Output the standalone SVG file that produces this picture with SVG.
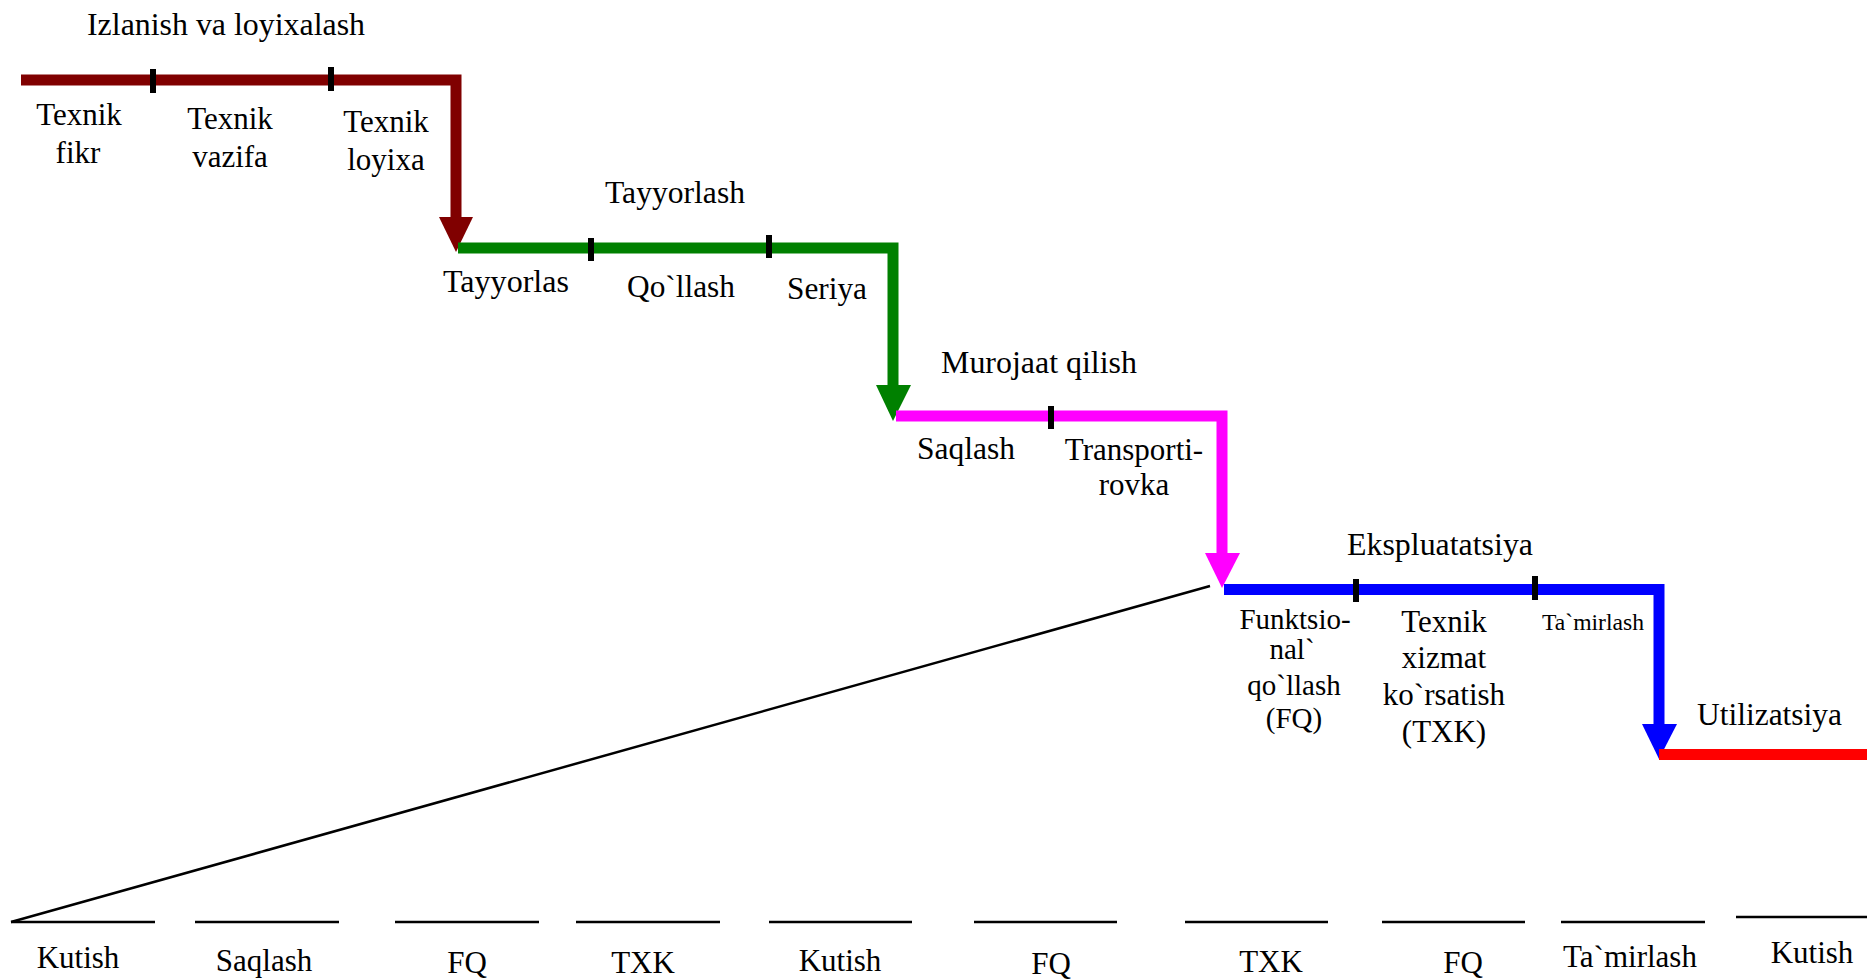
<svg xmlns="http://www.w3.org/2000/svg" width="1867" height="980" viewBox="0 0 1867 980">
  <style>
    text { font-family: "Liberation Serif", "Times New Roman", serif; font-size: 31px; fill: #000; }
    .mid { text-anchor: middle; }
    .small { font-size: 23px; }
    .stage { fill: none; stroke-width: 11; stroke-linejoin: miter; stroke-linecap: butt; }
    .tick { stroke: #000; stroke-width: 6; }
    .thin { stroke: #000; stroke-width: 2.5; fill: none; }
  </style>
  <rect width="1867" height="980" fill="#fff"/>

  <g id="connectors">
    <!-- Izlanish va loyixalash -->
    <polyline class="stage" stroke="#800000" points="21,80 456,80 456,218"/>
    <polygon fill="#800000" points="439,217 473,217 456,252"/>
    <!-- Tayyorlash -->
    <polyline class="stage" stroke="#008000" points="458,248 893,248 893,386"/>
    <polygon fill="#008000" points="876,385 911,385 893,421"/>
    <!-- Murojaat qilish -->
    <polyline class="stage" stroke="#FF00FF" points="896,416 1222,416 1222,554"/>
    <polygon fill="#FF00FF" points="1205,553 1240,553 1222,588"/>
    <!-- Ekspluatatsiya -->
    <polyline class="stage" stroke="#0000FF" points="1224,589.5 1659,589.5 1659,725"/>
    <polygon fill="#0000FF" points="1642,724 1677,724 1659,759"/>
    <!-- Utilizatsiya -->
    <line class="stage" stroke="#FF0000" x1="1659" y1="754.5" x2="1867" y2="754.5"/>

    <!-- sub-stage ticks -->
    <line class="tick" x1="153" y1="69" x2="153" y2="93"/>
    <line class="tick" x1="331" y1="67" x2="331" y2="91"/>
    <line class="tick" x1="591" y1="238" x2="591" y2="261"/>
    <line class="tick" x1="769" y1="235" x2="769" y2="258"/>
    <line class="tick" x1="1051" y1="406" x2="1051" y2="429"/>
    <line class="tick" x1="1356" y1="579" x2="1356" y2="602"/>
    <line class="tick" x1="1535" y1="576" x2="1535" y2="600"/>

    <!-- expansion of the operation stage -->
    <line class="thin" x1="11" y1="922" x2="1210" y2="586"/>
    <line class="thin" x1="11" y1="922" x2="155" y2="922"/>
    <line class="thin" x1="195" y1="922" x2="339" y2="922"/>
    <line class="thin" x1="395" y1="922" x2="539" y2="922"/>
    <line class="thin" x1="576" y1="922" x2="720" y2="922"/>
    <line class="thin" x1="769" y1="922" x2="912" y2="922"/>
    <line class="thin" x1="974" y1="922" x2="1117" y2="922"/>
    <line class="thin" x1="1185" y1="922" x2="1328" y2="922"/>
    <line class="thin" x1="1382" y1="922" x2="1525" y2="922"/>
    <line class="thin" x1="1561" y1="922" x2="1705" y2="922"/>
    <line class="thin" x1="1736" y1="917" x2="1867" y2="917"/>
  </g>

  <g id="stage-research">
    <text x="87" y="35" textLength="278" lengthAdjust="spacingAndGlyphs">Izlanish va loyixalash</text>
    <text class="mid" x="79" y="125">Texnik</text>
    <text class="mid" x="78" y="163">fikr</text>
    <text class="mid" x="230" y="129">Texnik</text>
    <text class="mid" x="230" y="167">vazifa</text>
    <text class="mid" x="386" y="132">Texnik</text>
    <text class="mid" x="386" y="170">loyixa</text>
  </g>

  <g id="stage-production">
    <text x="605" y="203" textLength="140" lengthAdjust="spacingAndGlyphs">Tayyorlash</text>
    <text x="443" y="292" textLength="126" lengthAdjust="spacingAndGlyphs">Tayyorlas</text>
    <text x="627" y="297" textLength="108" lengthAdjust="spacingAndGlyphs">Qo`llash</text>
    <text x="787" y="299" textLength="80" lengthAdjust="spacingAndGlyphs">Seriya</text>
  </g>

  <g id="stage-handling">
    <text x="941" y="373" textLength="196" lengthAdjust="spacingAndGlyphs">Murojaat qilish</text>
    <text x="917" y="459" textLength="98" lengthAdjust="spacingAndGlyphs">Saqlash</text>
    <text class="mid" x="1134" y="460">Transporti-</text>
    <text class="mid" x="1134" y="495">rovka</text>
  </g>

  <g id="stage-operation">
    <text x="1347" y="555" textLength="186" lengthAdjust="spacingAndGlyphs">Ekspluatatsiya</text>
    <text class="mid" x="1295" y="629" style="font-size:29px">Funktsio-</text>
    <text class="mid" x="1292" y="659" style="font-size:29px">nal`</text>
    <text class="mid" x="1294" y="695" style="font-size:29px">qo`llash</text>
    <text class="mid" x="1294" y="728" style="font-size:29px">(FQ)</text>
    <text class="mid" x="1444" y="632">Texnik</text>
    <text class="mid" x="1444" y="668">xizmat</text>
    <text class="mid" x="1444" y="705">ko`rsatish</text>
    <text class="mid" x="1444" y="742">(TXK)</text>
    <text class="small" x="1542" y="630" textLength="102" lengthAdjust="spacingAndGlyphs">Ta`mirlash</text>
  </g>

  <g id="stage-disposal">
    <text x="1697" y="725" textLength="145" lengthAdjust="spacingAndGlyphs">Utilizatsiya</text>
  </g>

  <g id="operation-states">
    <text class="mid" x="78" y="968">Kutish</text>
    <text class="mid" x="264" y="971">Saqlash</text>
    <text class="mid" x="467" y="973">FQ</text>
    <text class="mid" x="643" y="973">TXK</text>
    <text class="mid" x="840" y="971">Kutish</text>
    <text class="mid" x="1051" y="974">FQ</text>
    <text class="mid" x="1271" y="972">TXK</text>
    <text class="mid" x="1463" y="973">FQ</text>
    <text class="mid" x="1630" y="967">Ta`mirlash</text>
    <text class="mid" x="1812" y="963">Kutish</text>
  </g>
</svg>
